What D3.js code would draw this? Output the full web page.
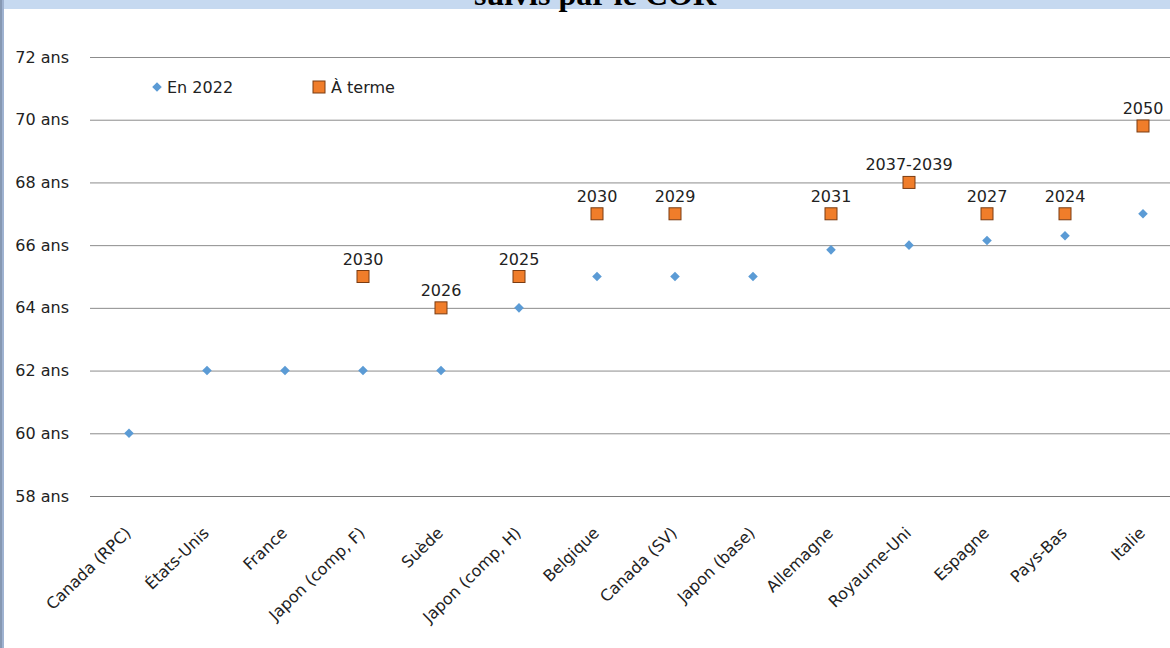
<!DOCTYPE html>
<meta charset="utf-8">
<style>
    body { margin: 0; background: #fff; }
    svg { display: block; font-family: "DejaVu Sans", Verdana, sans-serif; }
    .grid line { stroke: #8c8c8c; stroke-width: 1px; }
    .grid .domain { display: none; }
    .grid text { font-family: "DejaVu Sans", Verdana, sans-serif; font-size: 16px; fill: #222; }
    .xaxis .domain, .xaxis line { display: none; }
    .xaxis text { font-family: "DejaVu Sans", Verdana, sans-serif; font-size: 16px; fill: #222; }
    .lbl { font-size: 16px; fill: #222; }
</style>

<svg width="1170" height="648"></svg>
<script src="https://d3js.org/d3.v7.min.js"></script>
<script>

    var pays = ["Canada (RPC)", "États-Unis", "France", "Japon (comp, F)", "Suède", "Japon (comp, H)",
        "Belgique", "Canada (SV)", "Japon (base)", "Allemagne", "Royaume-Uni", "Espagne", "Pays-Bas", "Italie"];

    var en2022 = [60, 62, 62, 62, 62, 64, 65, 65, 65, 65.85, 66, 66.15, 66.3, 67];
    var aTerme = [null, null, null, 65, 64, 65, 67, 67, null, 67, 68, 67, 67, 69.8];
    var echeance = [null, null, null, "2030", "2026", "2025", "2030", "2029", null, "2031", "2037-2039", "2027", "2024", "2050"];

    var yTicks = [58, 60, 62, 64, 66, 68, 70, 72];

    var svg = d3.select("svg");

    // bandeau du titre, coupé en haut
    svg.append("rect").attr("x", 0).attr("y", 0).attr("width", 1170).attr("height", 9).attr("fill", "#c6d9f0");
    svg.append("text")
        .attr("x", 595).attr("y", 5)
        .attr("text-anchor", "middle")
        .style("font-family", "'Liberation Serif', 'Times New Roman', serif")
        .style("font-weight", "bold")
        .style("font-size", "32px")
        .text("suivis par le COR");
    svg.append("rect").attr("x", 0).attr("y", 0).attr("width", 4).attr("height", 648).attr("fill", "#9fb3d1");
    svg.append("line").attr("x1", 1).attr("x2", 1).attr("y1", 0).attr("y2", 648)
        .attr("stroke", "#6f7f95").attr("stroke-width", 1);

    var left = 90, right = 1182;
    var x = d3.scaleBand().domain(pays).range([left, right]);
    var y = d3.scaleLinear().domain([58, 72]).range([496, 57]);

    svg.append("g")
        .attr("class", "grid")
        .attr("transform", "translate(" + left + ",0)")
        .call(d3.axisLeft(y)
            .tickValues(yTicks)
            .tickSize(-(right - left))
            .tickPadding(21)
            .tickFormat(function (d) { return d + " ans"; }))
        .selectAll("line")
        .attr("stroke-width", function (d) { return d === 58 ? 2 : 1; })
        .style("stroke", function (d) { return d === 58 ? "#7a7a7a" : null; });

    var xAxis = svg.append("g")
        .attr("class", "xaxis")
        .attr("transform", "translate(0,496)")
        .call(d3.axisBottom(x).tickSize(0));

    xAxis.selectAll("text")
        .attr("text-anchor", "end")
        .attr("dy", null)
        .attr("transform", "translate(1,36) rotate(-44)");

    var ptsBleus = pays.map(function (p, i) { return { p: p, v: en2022[i] }; });
    var ptsOrange = pays.map(function (p, i) { return { p: p, v: aTerme[i], e: echeance[i] }; })
        .filter(function (d) { return d.v !== null; });

    // losange : carré tourné de 45°
    var losange = d3.symbol().type(d3.symbolSquare).size(46);

    svg.append("g").selectAll("path")
        .data(ptsBleus)
        .enter().append("path")
        .attr("d", losange)
        .attr("fill", "#5b9bd5")
        .attr("transform", function (d) { return "translate(" + (x(d.p) + x.bandwidth() / 2) + "," + y(d.v) + ") rotate(45)"; });

    var gO = svg.append("g").selectAll("g")
        .data(ptsOrange)
        .enter().append("g")
        .attr("transform", function (d) { return "translate(" + (x(d.p) + x.bandwidth() / 2) + "," + y(d.v) + ")"; });

    gO.append("rect")
        .attr("x", -6).attr("y", -6).attr("width", 12).attr("height", 12)
        .attr("fill", "#f07d2a")
        .attr("stroke", "#7a3c12")
        .attr("stroke-width", 1);

    gO.append("text")
        .attr("class", "lbl")
        .attr("text-anchor", "middle")
        .attr("y", -12)
        .text(function (d) { return d.e; });

    // légende
    var leg = svg.append("g");
    leg.append("path").attr("d", losange).attr("fill", "#5b9bd5").attr("transform", "translate(157,87) rotate(45)");
    leg.append("text").attr("class", "lbl").attr("x", 167).attr("y", 93).text("En 2022");
    leg.append("rect").attr("x", 313).attr("y", 81).attr("width", 12).attr("height", 12)
        .attr("fill", "#f07d2a").attr("stroke", "#7a3c12");
    leg.append("text").attr("class", "lbl").attr("x", 331).attr("y", 93).text("À terme");

</script>
